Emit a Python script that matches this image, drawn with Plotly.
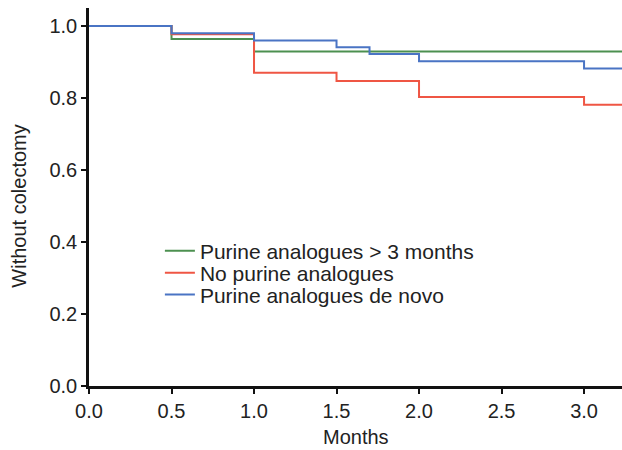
import plotly.graph_objects as go

# Kaplan-Meier step data (months, proportion without colectomy)
green_x = [0.0, 0.5, 1.0, 3.23]
green_y = [1.0, 0.964, 0.929, 0.929]

red_x = [0.0, 0.5, 1.0, 1.5, 2.0, 3.0, 3.23]
red_y = [1.0, 0.977, 0.870, 0.847, 0.803, 0.781, 0.781]

blue_x = [0.0, 0.5, 1.0, 1.5, 1.7, 2.0, 3.0, 3.23]
blue_y = [1.0, 0.980, 0.960, 0.941, 0.922, 0.902, 0.882, 0.882]

names = ["Purine analogues > 3 months", "No purine analogues", "Purine analogues de novo"]
colors = ["#4c9050", "#ef5644", "#4a74c4"]

tick_x = [0, 0.5, 1, 1.5, 2, 2.5, 3]
tick_x_text = ["0.0", "0.5", "1.0", "1.5", "2.0", "2.5", "3.0"]
tick_y = [0, 0.2, 0.4, 0.6, 0.8, 1.0]
tick_y_text = ["0.0", "0.2", "0.4", "0.6", "0.8", "1.0"]

legend_ids = ["legend", "legend2", "legend3"]
legend_y = [0.357, 0.299, 0.241]

fig = go.Figure()
for xs, ys, name, c, lg in zip([green_x, red_x, blue_x], [green_y, red_y, blue_y],
                               names, colors, legend_ids):
    fig.add_trace(go.Scatter(x=xs, y=ys, mode="lines", name=name, legend=lg,
                             line=dict(color=c, width=2, shape="hv")))

legend_common = dict(x=0.133, xanchor="left", yanchor="middle",
                     bgcolor="rgba(0,0,0,0)", font=dict(size=21), itemwidth=30)

fig.update_layout(
    width=622, height=450,
    margin=dict(l=89, r=0, t=8, b=64, autoexpand=False),
    paper_bgcolor="white", plot_bgcolor="white",
    font=dict(family="Liberation Sans, Arial, sans-serif", size=20, color="#222"),
    showlegend=True,
    legend=dict(y=legend_y[0], **legend_common),
    legend2=dict(y=legend_y[1], **legend_common),
    legend3=dict(y=legend_y[2], **legend_common),
    xaxis=dict(range=[0, 3.23], tickvals=tick_x, ticktext=tick_x_text,
               showline=True, linecolor="#111", linewidth=2.5,
               ticks="outside", ticklen=5, tickwidth=2, tickcolor="#111",
               showgrid=False, zeroline=False, automargin=False),
    yaxis=dict(range=[0, 1.05], tickvals=tick_y, ticktext=tick_y_text,
               showline=True, linecolor="#111", linewidth=2.5,
               ticks="outside", ticklen=5, tickwidth=2, tickcolor="#111",
               showgrid=False, zeroline=False, automargin=False),
    annotations=[
        dict(text="Months", xref="paper", yref="paper", x=0.5, y=-0.135,
             xanchor="center", yanchor="middle", showarrow=False,
             font=dict(size=20)),
        dict(text="Without colectomy", xref="paper", yref="paper", x=-0.131, y=0.475,
             xanchor="center", yanchor="middle", textangle=-90, showarrow=False,
             font=dict(size=20)),
    ],
)

fig.write_html("out.html", config={"displayModeBar": False},
               post_script="document.body.style.margin='0';")
